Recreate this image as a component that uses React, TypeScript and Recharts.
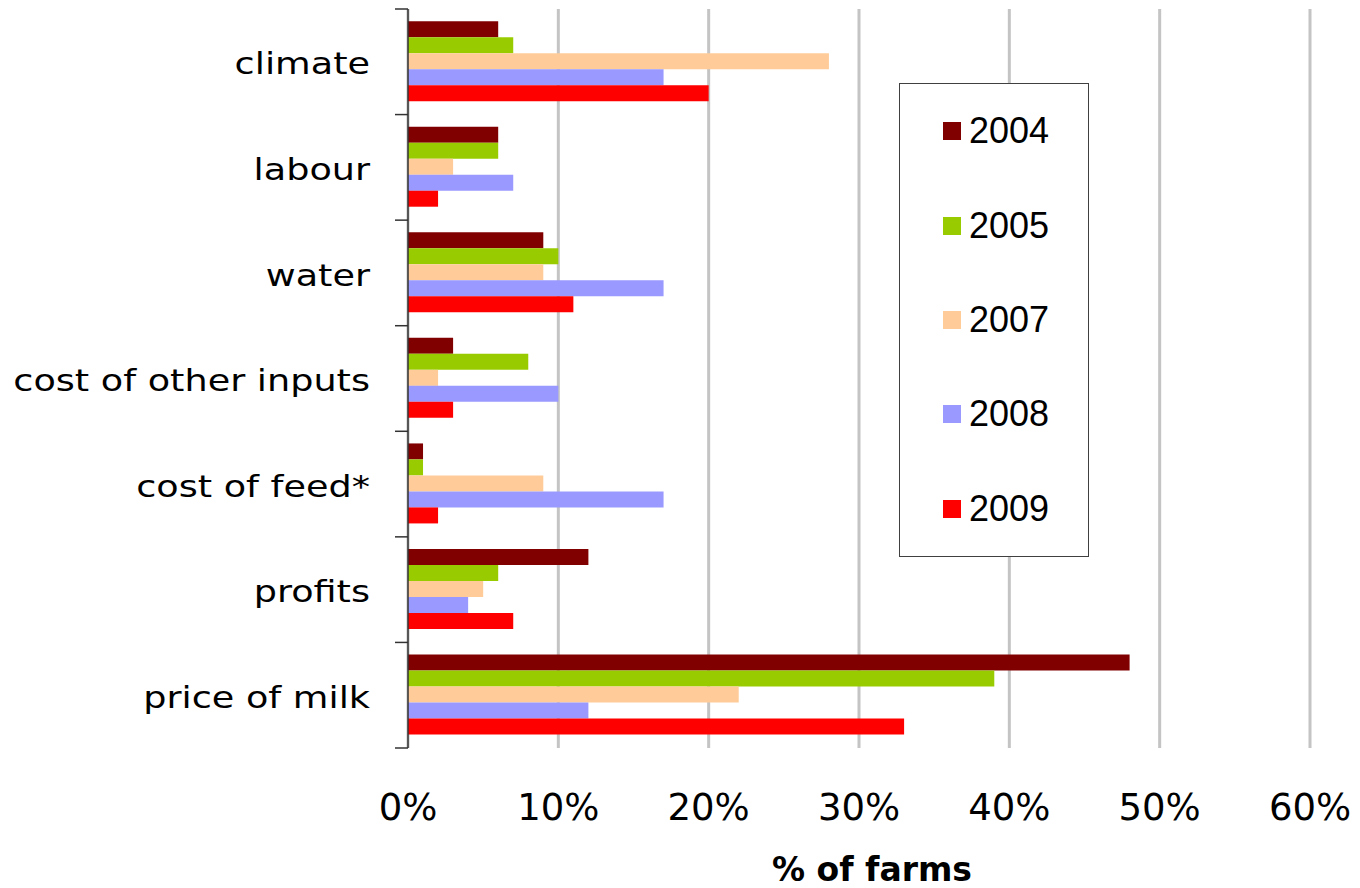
import React from 'react';
import { BarChart, Bar, XAxis, YAxis, CartesianGrid, Legend, Label } from 'recharts';

const categories = ['climate', 'labour', 'water', 'cost of other inputs', 'cost of feed*', 'profits', 'price of milk'];
const years = ['2004', '2005', '2007', '2008', '2009'];
const colors = ['#800000', '#99cc00', '#ffcc99', '#9999ff', '#ff0000'];
const v2004 = [6, 6, 9, 3, 1, 12, 48];
const v2005 = [7, 6, 10, 8, 1, 6, 39];
const v2007 = [28, 3, 9, 2, 9, 5, 22];
const v2008 = [17, 7, 17, 10, 17, 4, 12];
const v2009 = [20, 2, 11, 3, 2, 7, 33];
const xTicks = [0, 10, 20, 30, 40, 50, 60];

const seriesValues = [v2004, v2005, v2007, v2008, v2009];
const data = categories.map((c, i) => {
  const row: any = { category: c };
  years.forEach((y, k) => {
    row[y] = seriesValues[k][i];
  });
  return row;
});

const W = 1360;
const H = 888;
const M = { top: 9, right: 50, bottom: 0, left: 0 };
const X_AXIS_H = 140;
const Y_AXIS_W = 408;
const TICK_SIZE = 13;
const TICK_MARGIN = 25;

const CategoryTick = (props: any) => {
  const { x, y, payload, index, visibleTicksCount } = props;
  const fallbackHalf = (H - M.top - M.bottom - X_AXIS_H) / categories.length / 2;
  const half = payload && typeof payload.offset === 'number' && payload.offset > 0 ? payload.offset : fallbackHalf;
  const lx1 = x + TICK_MARGIN;
  const lx2 = x + TICK_MARGIN + TICK_SIZE;
  return (
    <g>
      <text
        transform={`translate(${x},${y}) scale(1.22,1)`}
        x={0}
        y={0}
        dy="0.42em"
        textAnchor="end"
        fontFamily="DejaVu Sans"
        fontSize={30}
        fill="#000"
      >
        {payload.value}
      </text>
      <line x1={lx1} x2={lx2} y1={y - half} y2={y - half} stroke="#333" strokeWidth={1.5} />
      {index === visibleTicksCount - 1 ? (
        <line x1={lx1} x2={lx2} y1={y + half} y2={y + half} stroke="#333" strokeWidth={1.5} />
      ) : null}
    </g>
  );
};

const LegendBox = (props: any) => {
  const { payload } = props;
  return (
    <div
      style={{
        width: 190,
        height: 474,
        boxSizing: 'border-box',
        border: '1.5px solid #404040',
        background: '#fff',
        display: 'flex',
        flexDirection: 'column',
        justifyContent: 'center',
      }}
    >
      {(payload || []).map((p: any) => (
        <div
          key={p.value}
          style={{
            height: 94.8,
            display: 'flex',
            alignItems: 'center',
            paddingLeft: 43,
          }}
        >
          <div style={{ width: 18, height: 18, background: p.color, marginRight: 8 }} />
          <span style={{ fontFamily: 'Liberation Sans', fontSize: 36, color: '#000', lineHeight: 1 }}>{p.value}</span>
        </div>
      ))}
    </div>
  );
};

const AxisTitle = (props: any) => {
  const vb = props.viewBox || {};
  return (
    <text
      x={vb.x + vb.width / 2 + 13}
      y={vb.y + vb.height - 7}
      textAnchor="middle"
      fontFamily="DejaVu Sans"
      fontWeight="bold"
      fontSize={33}
      fill="#000"
    >
      % of farms
    </text>
  );
};

export default function App() {
  return (
    <div style={{ position: 'absolute', left: 0, top: 0, width: W, height: H, background: '#fff' }}>
      <BarChart
        width={W}
        height={H}
        data={data}
        layout="vertical"
        margin={M}
        barCategoryGap="11.5%"
        barGap={0}
      >
        <CartesianGrid horizontal={false} vertical={true} stroke="#c4c4c4" strokeWidth={3} />
        <XAxis
          type="number"
          domain={[0, 60]}
          ticks={xTicks}
          tickFormatter={(v: number) => `${v}%`}
          axisLine={false}
          tickLine={false}
          tickSize={0}
          tickMargin={46}
          height={X_AXIS_H}
          tick={{ fontFamily: 'DejaVu Sans', fontSize: 37, fill: '#000' }}
          interval={0}
        >
          <Label content={<AxisTitle />} position="insideBottom" />
        </XAxis>
        <YAxis
          type="category"
          dataKey="category"
          width={Y_AXIS_W}
          axisLine={{ stroke: '#333', strokeWidth: 1.5 }}
          tickLine={false}
          tickSize={TICK_SIZE}
          tickMargin={TICK_MARGIN}
          tick={<CategoryTick />}
          interval={0}
        />
        <Legend
          layout="vertical"
          align="center"
          verticalAlign="middle"
          content={<LegendBox />}
          wrapperStyle={{ left: 899, top: 83, width: 190, height: 474 }}
        />
        {years.map((y, k) => (
          <Bar key={y} dataKey={y} name={y} fill={colors[k]} isAnimationActive={false} />
        ))}
      </BarChart>
    </div>
  );
}
